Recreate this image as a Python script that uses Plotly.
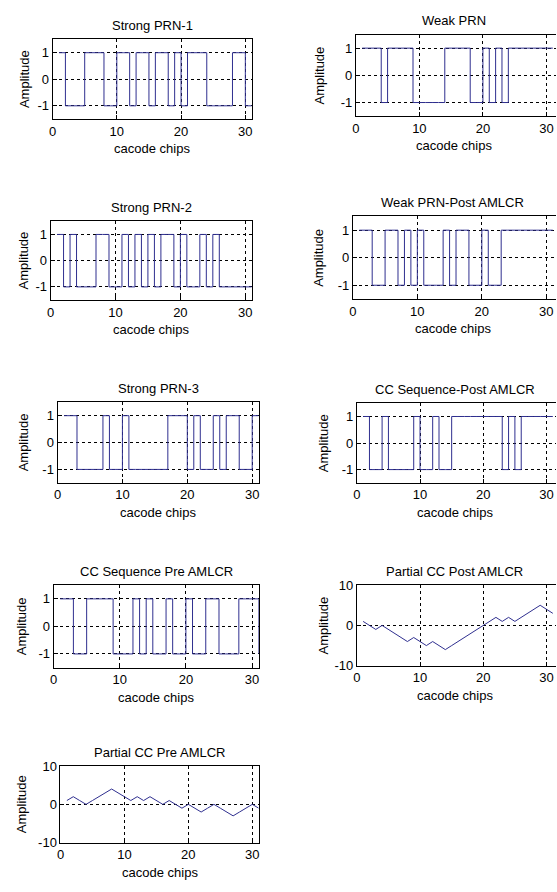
import plotly.graph_objects as go

# ---------------- data ----------------
chips = list(range(1, 32))

strong_prn1 = [1, -1, -1, -1, 1, 1, 1, -1, -1, 1, 1, -1, 1, 1, -1, 1, 1, -1, 1, -1,
               1, 1, 1, -1, -1, -1, -1, 1, 1, -1, -1]
weak_prn = [1, 1, 1, -1, 1, 1, 1, 1, -1, -1, -1, -1, -1, 1, 1, 1, 1, -1, -1, 1,
            -1, 1, -1, 1, 1, 1, 1, 1, 1, 1, 1]
strong_prn2 = [1, -1, 1, -1, -1, -1, 1, 1, -1, -1, 1, -1, 1, -1, 1, -1, 1, 1, -1, 1,
               -1, -1, 1, -1, 1, -1, -1, -1, -1, -1, -1]
weak_prn_post = [1, 1, -1, -1, 1, 1, -1, 1, -1, 1, -1, -1, -1, 1, -1, 1, 1, -1, -1, 1,
                 -1, -1, 1, 1, 1, 1, 1, 1, 1, 1, 1]
strong_prn3 = [1, 1, -1, -1, -1, -1, 1, -1, -1, 1, -1, -1, -1, -1, -1, -1, 1, 1, 1, -1,
               1, -1, -1, 1, -1, 1, 1, -1, -1, 1, 1]
cc_post = [1, -1, -1, 1, -1, -1, -1, -1, 1, -1, -1, 1, -1, -1, 1, 1, 1, 1, 1, 1,
           1, 1, -1, 1, -1, 1, 1, 1, 1, 1, 1]
cc_pre = [1, 1, -1, -1, 1, 1, 1, 1, -1, -1, -1, 1, -1, 1, -1, -1, 1, -1, -1, 1,
          -1, -1, 1, 1, -1, -1, -1, 1, 1, 1, -1]
partial_cc_post = [1, 0, -1, 0, -1, -2, -3, -4, -3, -4, -5, -4, -5, -6, -5, -4, -3, -2, -1, 0,
                   1, 2, 1, 2, 1, 2, 3, 4, 5, 4, 3]
partial_cc_pre = [1, 2, 1, 0, 1, 2, 3, 4, 3, 2, 1, 2, 1, 2, 1, 0, 1, 0, -1, 0,
                  -1, -2, -1, 0, -1, -2, -3, -2, -1, 0, -1]

titles = ["Strong PRN-1", "Weak PRN", "Strong PRN-2", "Weak PRN-Post AMLCR",
          "Strong PRN-3", "CC Sequence-Post AMLCR", "CC Sequence Pre AMLCR",
          "Partial CC Post AMLCR", "Partial CC Pre AMLCR"]
series = [strong_prn1, weak_prn, strong_prn2, weak_prn_post, strong_prn3,
          cc_post, cc_pre, partial_cc_post, partial_cc_pre]
kinds = ["step"] * 7 + ["line", "line"]

x_ticks = [0, 10, 20, 30]
step_y_ticks = [-1, 0, 1]
step_y_text = ["-1", "0", "1"]
partial_y_ticks = [-10, 0, 10]
partial_y_text = ["-10", "0", "10"]
x_label = "cacode chips"
y_label = "Amplitude"

# ---------------- layout (pixel boxes) ----------------
W, H = 557, 892
# (left, right, top, bottom, x-range max, right column?)
boxes = [
    (49, 250, 33, 114, 31, False), (355, 557, 28, 111, 31.5, True),
    (47, 250, 218, 298, 31, False), (352, 557, 213, 297, 31.5, True),
    (54, 257, 402, 484, 31, False), (356, 557, 403, 484, 31.5, True),
    (50, 257, 588, 672, 31, False), (356, 557, 588, 670, 31.5, True),
    (57, 257, 772, 850, 31, False),
]
ylab_x = [20, 318, 20, 318, 20, 322, 18, 322, 18]

FONT = "Liberation Sans, Arial, sans-serif"
LINE_COL = "#2f2f8f"

fig = go.Figure()
annotations = []
for i, (name, ys, kind, box) in enumerate(zip(titles, series, kinds, boxes)):
    n = i + 1
    xa = "x" if n == 1 else f"x{n}"
    ya = "y" if n == 1 else f"y{n}"
    fig.add_trace(go.Scatter(
        x=chips, y=ys, mode="lines", xaxis=xa, yaxis=ya,
        line=dict(color=LINE_COL, width=1, shape="hv" if kind == "step" else "linear"),
        showlegend=False, hoverinfo="skip"))
    l, r, t, b, xmax, right_col = box
    xd = [l / W, r / W]
    yd = [1 - b / H, 1 - t / H]
    common = dict(showline=True, linecolor="black", linewidth=1,
                  ticks="inside", ticklen=4, tickcolor="black",
                  showgrid=True, gridcolor="black", gridwidth=1, griddash="3px,3px",
                  zeroline=False, tickfont=dict(family=FONT, size=13, color="black"),
                  fixedrange=True)
    key_x = "xaxis" if n == 1 else f"xaxis{n}"
    key_y = "yaxis" if n == 1 else f"yaxis{n}"
    fig.layout[key_x] = dict(domain=xd, anchor=ya, range=[0, xmax], mirror=True,
                             tickmode="array", tickvals=x_ticks,
                             ticklabeloverflow="allow", **common)
    ymirror = False if right_col else True
    if kind == "step":
        fig.layout[key_y] = dict(domain=yd, anchor=xa, range=[-1.5, 1.5], mirror=ymirror,
                                 tickmode="array", tickvals=step_y_ticks,
                                 ticktext=step_y_text, **common)
    else:
        fig.layout[key_y] = dict(domain=yd, anchor=xa, range=[-10, 10], mirror=ymirror,
                                 tickmode="array", tickvals=partial_y_ticks,
                                 ticktext=partial_y_text, **common)
    scale = (r - l) / xmax
    cx = l + 15.5 * scale
    annotations.append(dict(text=name, xref="paper", yref="paper",
                            x=cx / W, y=1 - (t - 14) / H, xanchor="center", yanchor="middle",
                            showarrow=False, font=dict(family=FONT, size=13, color="black")))
    annotations.append(dict(text=x_label, xref="paper", yref="paper",
                            x=cx / W, y=1 - (b + 30) / H, xanchor="center", yanchor="middle",
                            showarrow=False, font=dict(family=FONT, size=13, color="black")))
    annotations.append(dict(text=y_label, xref="paper", yref="paper", textangle=-90,
                            x=ylab_x[i] / W, y=1 - ((t + b) / 2) / H,
                            xanchor="center", yanchor="middle",
                            showarrow=False, font=dict(family=FONT, size=13, color="black")))

fig.update_layout(width=W, height=H, margin=dict(l=0, r=0, t=0, b=0),
                  paper_bgcolor="white", plot_bgcolor="white",
                  annotations=annotations, showlegend=False)

fig.write_html("out.html", config={"displayModeBar": False},
               post_script="document.body.style.margin='0';"
                           "document.body.style.overflow='hidden';")
